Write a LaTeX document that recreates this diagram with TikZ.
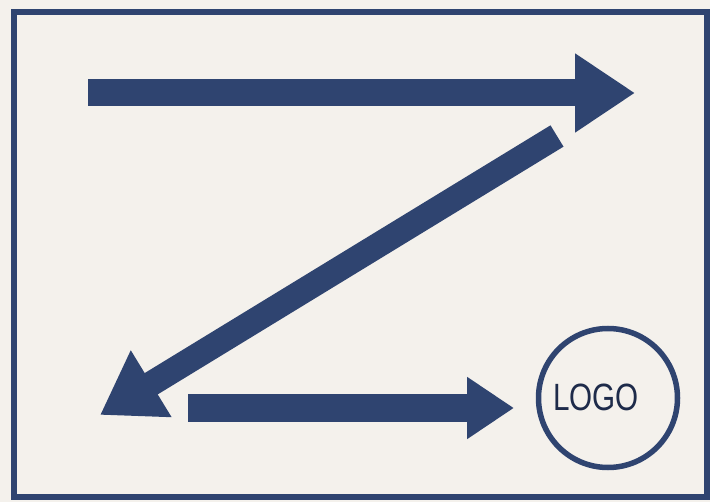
\documentclass[tikz,border=0pt]{standalone}
\usepackage{fontspec}
\usepackage{graphicx}
\usetikzlibrary{arrows.meta}
\definecolor{navy}{HTML}{2F4470}
\definecolor{ink}{HTML}{1E2B4A}
\definecolor{paper}{HTML}{F4F1EC}
\newfontfamily\logofont{Liberation Sans}

\begin{document}
\begin{tikzpicture}[x=1pt,y=-1pt]
	\tikzset{frame/.style = {draw=navy,line width=6pt}}
	\tikzset{bigarrow/.style = {draw=navy,line width=27pt,-{Triangle[width=75pt,length=60pt]}}}
	\tikzset{diagarrow/.style = {draw=navy,line width=25pt,-{Triangle[width=74pt,length=60pt]}}}
	\tikzset{smallarrow/.style = {draw=navy,line width=28pt,-{Triangle[width=59pt,length=47pt]}}}
	\tikzset{logoring/.style = {shape=circle,draw=navy,line width=5.5pt,minimum size=139pt,inner sep=0pt}}
	\fill[paper] (0,0) rectangle (710,502);
	\useasboundingbox (0,0) rectangle (710,502);
	\draw[frame] (14,12) rectangle (707,497);
	%ends of the arrows
	\coordinate (a) at (88,93);
	\coordinate (b) at (635,93);
	\coordinate (c) at (557,136);
	\coordinate (d) at (100,415);
	\coordinate (e) at (188,408);
	\coordinate (f) at (514,408);
	\node[logoring] (logo) at (608,398) {};
	\node[text=ink] (logotext) at (596,397) {\logofont\fontsize{38}{38}\selectfont\scalebox{0.78}[1]{LOGO}};
	%arrows
	\draw[bigarrow] (a) to (b);
	\draw[diagarrow] (c) to (d);
	\draw[smallarrow] (e) to (f);
\end{tikzpicture}
\end{document}
